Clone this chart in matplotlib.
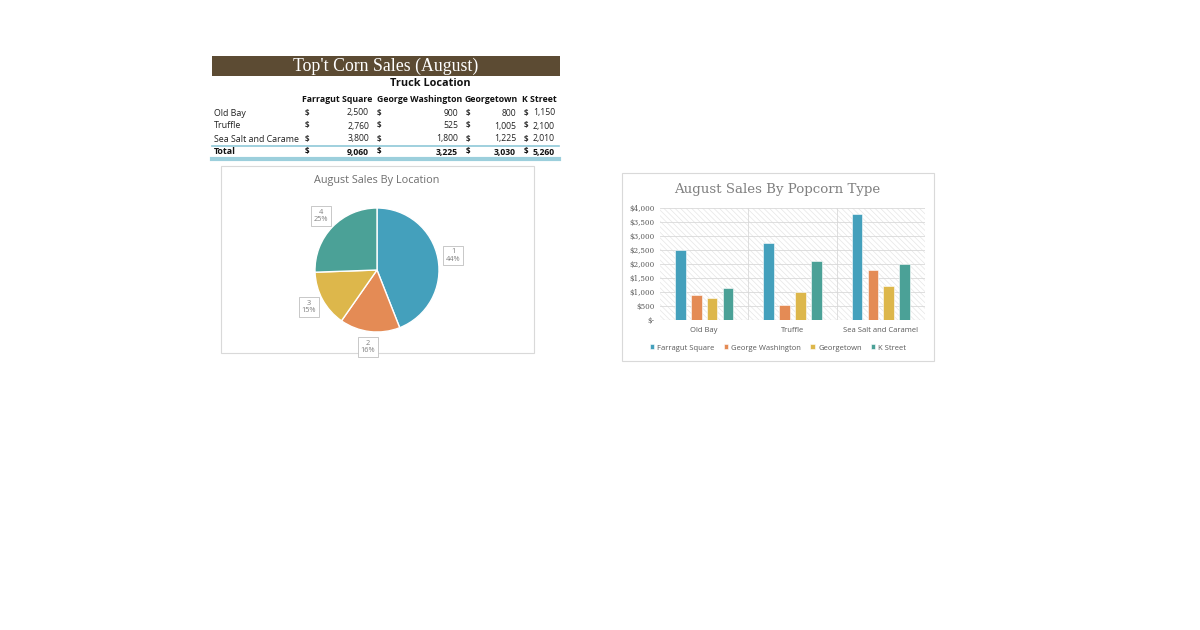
import numpy as np
import matplotlib
matplotlib.use("Agg")
import matplotlib.pyplot as plt
from matplotlib.patches import Rectangle

# ---------------- data ----------------
locations = ["Farragut Square", "George Washington", "Georgetown", "K Street"]
flavors = ["Old Bay", "Truffle", "Sea Salt and Caramel"]
flavor_rows = ["Old Bay", "Truffle", "Sea Salt and Carame"]
farragut = [2500, 2760, 3800]
george_wash = [900, 525, 1800]
georgetown = [800, 1005, 1225]
k_street = [1150, 2100, 2010]
totals = [9060, 3225, 3030, 5260]
pie_numbers = ["1", "2", "3", "4"]
pie_pcts = ["44%", "16%", "15%", "25%"]
yticks = [0, 500, 1000, 1500, 2000, 2500, 3000, 3500, 4000]
ytick_labels = ["$-", "$500", "$1,000", "$1,500", "$2,000", "$2,500", "$3,000", "$3,500", "$4,000"]

colors = ["#44A0BC", "#E48B55", "#DDB74B", "#4BA197"]

W, H = 1200, 630
fig = plt.figure(figsize=(12, 6.3), dpi=100)
fig.patch.set_facecolor("white")


def rect(x0, y0, x1, y1):
    return [x0 / W, 1 - y1 / H, (x1 - x0) / W, (y1 - y0) / H]


SANS = ["Open Sans", "DejaVu Sans"]

# ---------------- table ----------------
bg = fig.add_axes([0, 0, 1, 1], zorder=0)
bg.set_xlim(0, W)
bg.set_ylim(H, 0)
bg.axis("off")
bg.add_patch(Rectangle((212, 56), 348, 20, facecolor="#5C4B33", edgecolor="none"))
bg.text(386, 66.5, "Top't Corn Sales (August)", color="white", fontsize=12.8,
        family=["Liberation Serif"], ha="center", va="center")
bg.text(430, 84, "Truck Location", fontsize=7.8, fontweight="bold", family=SANS,
        ha="center", va="center", color="#111111")

header_right = [372, 462, 518, 557]
for lab, xr in zip(locations, header_right):
    bg.text(xr, 99, lab, fontsize=6.3, fontweight="bold", family=SANS,
            ha="right", va="center", color="#111111")

dollar_x = [305, 377, 466, 524]
amt_right = [369, 458, 516, 555]
series = [farragut, george_wash, georgetown, k_street]
row_y = [113, 126, 139]
for i, (lab, y) in enumerate(zip(flavor_rows, row_y)):
    bg.text(214, y, lab, fontsize=6.4, family=SANS, ha="left", va="center", color="#222222")
    for j in range(4):
        bg.text(dollar_x[j], y, "$", fontsize=5.8, fontweight="bold", family=SANS,
                ha="left", va="center", color="#333333")
        bg.text(amt_right[j], y, f"{series[j][i]:,}", fontsize=6.2, family=SANS,
                ha="right", va="center", color="#222222")
bg.text(214, 152, "Total", fontsize=6.4, fontweight="bold", family=SANS, ha="left", va="center", color="#111111")
for j in range(4):
    bg.text(dollar_x[j], 152, "$", fontsize=5.8, fontweight="bold", family=SANS, ha="left", va="center", color="#111111")
    bg.text(amt_right[j], 152, f"{totals[j]:,}", fontsize=6.2, fontweight="bold", family=SANS,
            ha="right", va="center", color="#111111")
bg.plot([212, 559], [145.5, 145.5], color="#8FC8D8", lw=1.2)
bg.plot([212, 559], [158.5, 158.5], color="#9CCFDC", lw=3)

# chart boxes
bg.add_patch(Rectangle((220.5, 165.5), 313, 187, facecolor="white", edgecolor="#D9D9D9", lw=0.8))
bg.add_patch(Rectangle((621.5, 172.5), 312, 188, facecolor="white", edgecolor="#D9D9D9", lw=0.8))

# ---------------- pie ----------------
bg.text(377, 180, "August Sales By Location", fontsize=7.8, family=SANS,
        ha="center", va="center", color="#6E6E6E")
pax = fig.add_axes(rect(315, 208, 439, 332), zorder=2)
wedges, _ = pax.pie(totals, colors=colors, startangle=90, counterclock=False,
                    wedgeprops=dict(edgecolor="white", linewidth=1.0))
pax.set_xlim(-1, 1)
pax.set_ylim(-1, 1)
for w, n, p in zip(wedges, pie_numbers, pie_pcts):
    ang = np.deg2rad((w.theta1 + w.theta2) / 2)
    r = 1.25
    pax.annotate(f"{n}\n{p}", xy=(r * np.cos(ang), r * np.sin(ang)), ha="center", va="center",
                 fontsize=5.3, color="#7F7F7F", family=SANS, linespacing=1.1,
                 annotation_clip=False,
                 bbox=dict(boxstyle="square,pad=0.35", facecolor="white", edgecolor="#BFBFBF", lw=0.6))

# ---------------- bar chart ----------------
bg.text(777, 189, "August Sales By Popcorn Type", fontsize=9.6, family=["DejaVu Serif"],
        ha="center", va="center", color="#808080")
plt.rcParams["hatch.linewidth"] = 0.5
plt.rcParams["hatch.color"] = "#E6E6E6"
bax = fig.add_axes(rect(660, 208, 925, 320), zorder=2)
bax.set_xlim(0, 3)
bax.set_ylim(0, 4000)
bax.add_patch(Rectangle((0, 0), 3, 4000, facecolor="white", edgecolor="#E6E6E6",
                        hatch="\\\\\\\\\\\\", lw=0, zorder=0))
for y in yticks[1:]:
    bax.axhline(y, color="#D9D9D9", lw=0.6, zorder=1)
for x in [1, 2]:
    bax.axvline(x, color="#D9D9D9", lw=0.6, zorder=1)
step = 0.18
bw = 0.12
xs = np.arange(len(flavors)) + 0.5
handles = []
for j in range(4):
    b = bax.bar(xs + (j - 1.5) * step, series[j], width=bw, color=colors[j],
                edgecolor="white", lw=0.4, zorder=3, label=locations[j])
    handles.append(b)
for s in bax.spines.values():
    s.set_visible(False)
bax.axhline(0, color="#D9D9D9", lw=0.8, zorder=2)
bax.set_yticks(yticks)
bax.set_yticklabels(ytick_labels, family=["DejaVu Serif"], fontsize=5.1, color="#595959")
bax.set_xticks(xs)
bax.set_xticklabels(flavors, family=SANS, fontsize=5.5, color="#595959")
bax.tick_params(length=0, pad=4)
bax.tick_params(axis="x", pad=5)
fig.legend(handles=handles, labels=locations, loc="center", bbox_to_anchor=(778 / W, 1 - 348 / H),
           ncol=4, frameon=False, prop=dict(family=SANS, size=5.5), labelcolor="#595959",
           handlelength=0.6, handleheight=0.6, handletextpad=0.4, columnspacing=1.2)

fig.savefig("out.png", dpi=100, facecolor="white")
